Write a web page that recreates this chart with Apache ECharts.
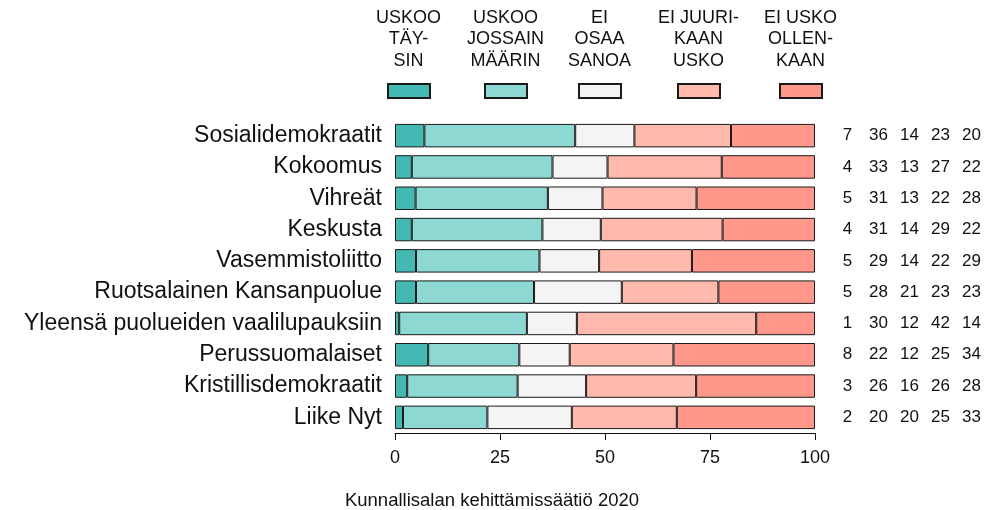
<!DOCTYPE html>
<html>

<head>
	<meta charset="utf-8">
	<title>Luottamus vaalilupauksiin</title>
	<script src="https://cdn.jsdelivr.net/npm/echarts@6/dist/echarts.min.js"></script>
	<style>
		html, body { margin: 0; padding: 0; background: #fff; }
	</style>
</head>

<body>
	<div id="main" style="width: 987px;height:510px;"></div>

	<script type="text/javascript">
		// puolueet ylhäältä alas
		var puolueet = ['Sosialidemokraatit', 'Kokoomus', 'Vihreät', 'Keskusta', 'Vasemmistoliitto',
			'Ruotsalainen Kansanpuolue', 'Yleensä puolueiden vaalilupauksiin', 'Perussuomalaiset',
			'Kristillisdemokraatit', 'Liike Nyt'];
		var otsikot = ['USKOO\nTÄY-\nSIN', 'USKOO\nJOSSAIN\nMÄÄRIN', 'EI\nOSAA\nSANOA',
			'EI JUURI-\nKAAN\nUSKO', 'EI USKO\nOLLEN-\nKAAN'];

		// palkkien osuudet (%)
		var uskooTaysin = [7.0, 4.0, 4.9, 4.0, 5.0, 5.0, 1.0, 7.9, 2.9, 1.9];
		var uskooJossain = [35.9, 33.5, 31.5, 31.1, 29.4, 28.1, 30.4, 21.7, 26.3, 20.1];
		var eiOsaa = [14.1, 13.1, 13.0, 13.9, 14.2, 20.9, 11.9, 12.0, 16.3, 20.1];
		var eiJuuri = [23.0, 27.2, 22.4, 29.0, 22.1, 23.0, 42.7, 24.7, 26.2, 25.0];
		var eiOllenkaan = [20.0, 22.2, 28.2, 22.0, 29.3, 23.0, 14.0, 33.7, 28.3, 32.9];

		// oikean reunan pyöristetyt luvut
		var lukuTaysin = [7, 4, 5, 4, 5, 5, 1, 8, 3, 2];
		var lukuJossain = [36, 33, 31, 31, 29, 28, 30, 22, 26, 20];
		var lukuEiOsaa = [14, 13, 13, 14, 14, 21, 12, 12, 16, 20];
		var lukuEiJuuri = [23, 27, 22, 29, 22, 23, 42, 25, 26, 25];
		var lukuEiOllenkaan = [20, 22, 28, 22, 29, 23, 14, 34, 28, 33];

		var lahde = 'Kunnallisalan kehittämissäätiö 2020';

		var colors = ['#44b8b3', '#8ed8d3', '#f4f4f4', '#ffb9ad', '#ff978a'];
		var font = "'Liberation Sans', Arial, sans-serif";

		var arvot = [uskooTaysin, uskooJossain, eiOsaa, eiJuuri, eiOllenkaan];
		var luvut = [lukuTaysin, lukuJossain, lukuEiOsaa, lukuEiJuuri, lukuEiOllenkaan];
		var legendLeft = [387, 484, 578, 677, 779];

		var myChart = echarts.init(document.getElementById('main'));

		var series = arvot.map(function (d, k) {
			var s = {
				name: otsikot[k],
				type: 'bar',
				stack: 'kaikki',
				barCategoryGap: '25%',
				data: d,
				itemStyle: {
					color: colors[k],
					borderColor: '#1a1a1a',
					borderWidth: 1
				},
				emphasis: { disabled: true }
			};
			if (k === arvot.length - 1) {
				s.label = {
					show: true,
					position: 'right',
					distance: 17,
					formatter: function (p) {
						return luvut.map(function (a) {
							return '{n|' + a[p.dataIndex] + '}';
						}).join('');
					},
					rich: {
						n: { width: 31, align: 'center', fontSize: 17, color: '#111', fontFamily: font }
					}
				};
			}
			return s;
		});

		var option = {
			animation: false,
			color: colors,
			textStyle: { fontFamily: font },
			legend: otsikot.map(function (n, k) {
				return {
					data: [n],
					left: legendLeft[k],
					top: 83,
					padding: 0,
					icon: 'rect',
					itemWidth: 42,
					itemHeight: 14,
					formatter: function () { return ''; },
					textStyle: { fontSize: 8 },
					selectedMode: false
				};
			}),
			grid: {
				left: 395,
				width: 420,
				top: 120,
				bottom: 77
			},
			xAxis: {
				type: 'value',
				min: 0,
				max: 100,
				interval: 25,
				axisLine: { show: true, lineStyle: { color: '#111', width: 1 } },
				axisTick: { show: true, length: 7, lineStyle: { color: '#111' } },
				splitLine: { show: false },
				axisLabel: { fontSize: 18, color: '#111', margin: 16, fontFamily: font }
			},
			yAxis: {
				type: 'category',
				inverse: true,
				data: puolueet,
				axisLine: { show: false },
				axisTick: { show: false },
				axisLabel: { fontSize: 23, color: '#111', margin: 13, fontFamily: font }
			},
			graphic: otsikot.map(function (t, k) {
				return {
					type: 'text',
					x: legendLeft[k] + 21.5,
					y: 7,
					style: {
						text: t,
						align: 'center',
						verticalAlign: 'top',
						fontSize: 18,
						lineHeight: 21.5,
						fontFamily: font,
						fill: '#111'
					}
				};
			}).concat([{
				type: 'text',
				x: 492,
				y: 501,
				style: {
					text: lahde,
					align: 'center',
					verticalAlign: 'middle',
					fontSize: 18.5,
					fontFamily: font,
					fill: '#111'
				}
			}]),
			series: series
		};

		myChart.setOption(option);
	</script>
</body>

</html>
